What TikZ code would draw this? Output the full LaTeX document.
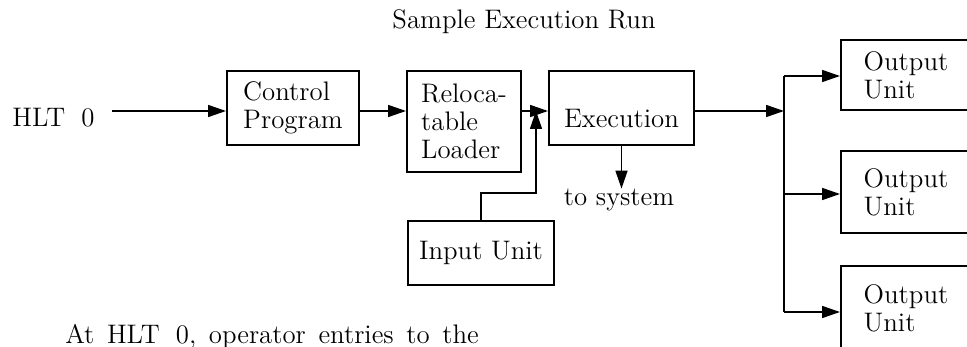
\documentclass[tikz,border=0pt]{standalone}
\usetikzlibrary{arrows.meta}
\begin{document}
\begin{tikzpicture}[x=0.5pt,y=-0.5pt,
	font=\fontsize{13.4}{14}\selectfont,
	every node/.style={inner sep=0pt},
	unitbox/.style={draw,line width=1pt,anchor=north west,align=left},
	arr/.style={line width=0.8pt,-{Triangle[length=9pt,width=6pt]}},
	wire/.style={line width=0.8pt}]
	\clip (0,0) rectangle (967,347);
	\node (title) at (524,22) {Sample Execution Run};
	\node[anchor=west] (hlt) at (12,118) {HLT\hspace{0.6em}0};
	\node[unitbox,minimum width=66pt,minimum height=37pt] (ctrl) at (226,70) {Control\\Program};
	\node[unitbox,minimum width=57pt,minimum height=50.5pt] (loader) at (406,70) {Reloca-\\table\\Loader};
	\node[unitbox,minimum width=72.5pt,minimum height=37pt,label={[yshift=-5.5pt]center:Execution}] (exec) at (548,70) {};
	\node[unitbox,minimum width=73pt,minimum height=32pt] (input) at (407,220) {Input Unit};
	\node (tosys) at (619,200) {to system};
	\node[unitbox,minimum width=65pt,minimum height=35pt] (out1) at (840,39) {Output\\Unit};
	\node[unitbox,minimum width=65pt,minimum height=41pt] (out2) at (840,150) {Output\\Unit};
	\node[unitbox,minimum width=65pt,minimum height=42pt] (out3) at (840,265) {Output\\Unit};
	\node (note) at (272,337) {\spaceskip=0.47em At HLT\hspace{0.6em}0, operator entries to the};
	\coordinate (start) at (112,111);
	\coordinate (merge) at (536,111);
	\coordinate (trunk) at (784,111);
	\coordinate (b1) at (784,76);
	\coordinate (b2) at (784,194);
	\coordinate (b3) at (784,312);
	\draw[arr] (start) -- (start -| ctrl.west);
	\draw[arr] (ctrl.east |- start) -- (loader.west |- start);
	\draw[arr] (loader.east |- start) -- (exec.west |- start);
	\draw[arr] ([xshift=37pt]input.north west) -- ++(0,-27) -| (merge);
	\draw[arr] (exec.south) -- (exec.south |- tosys.north);
	\draw[arr] (exec.east |- start) -- (trunk);
	\draw[wire] (b1) -- (b3);
	\draw[arr] (b1) -- (b1 -| out1.west);
	\draw[arr] (b2) -- (b2 -| out2.west);
	\draw[arr] (b3) -- (b3 -| out3.west);
\end{tikzpicture}
\end{document}
